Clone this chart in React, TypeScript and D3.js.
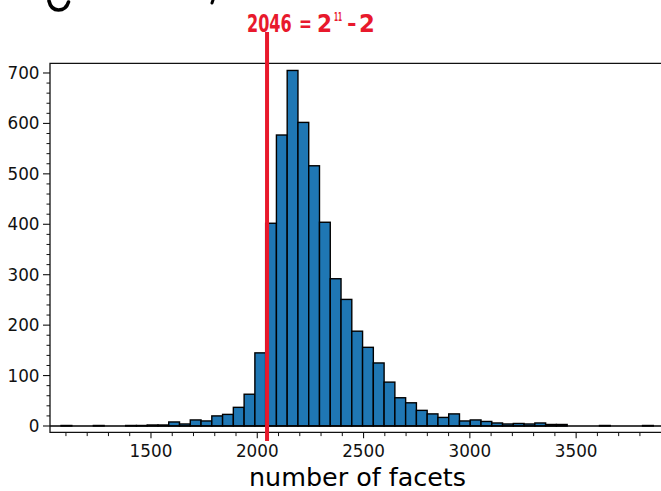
import React from "react";
import * as d3 from "d3";

// Histogram of facet counts: bin counts between the smallest and largest sample
const binCounts = [
  1, 0, 0, 1, 0, 0, 1, 1, 2, 2,
  8, 4, 12, 10, 20, 23, 37, 63, 145, 402,
  577, 705, 602, 516, 404, 292, 251, 188, 156, 125,
  87, 56, 46, 31, 24, 17, 24, 10, 12, 9,
  6, 4, 5, 4, 6, 3, 3, 0, 0, 0,
  1, 0, 0, 0, 1,
];
const binRange = [1077, 3863];
const xMajorTicks = [1500, 2000, 2500, 3000, 3500];
const yMajorTicks = [0, 100, 200, 300, 400, 500, 600, 700];
const markerValue = 2046;
const xLabel = "number of facets";

const W = 661;
const H = 491;
const left = 50;
const right = 665;
const top = 63.3;
const bottom = 432.3;

// pieces of the handwritten note "2046 = 2^11 - 2" (sx squeezes glyphs horizontally)
const notePieces = [
  { t: "2046", x: 247, y: 32, size: 24, sx: 0.67 },
  { t: "=", x: 299, y: 31, size: 22, sx: 0.7 },
  { t: "2", x: 317, y: 32, size: 24, sx: 0.9 },
  { t: "11", x: 334, y: 21, size: 13, sx: 0.45 },
  { t: "-", x: 347, y: 31, size: 22, sx: 1.05 },
  { t: "2", x: 359, y: 32, size: 24, sx: 0.95 },
];

export default function App() {
  const x = d3.scaleLinear().domain([1025, 3918]).range([left, right]);
  const y = d3.scaleLinear().domain([-12.5, 719.2]).range([bottom, top]);

  const nBins = binCounts.length;
  const step = (binRange[1] - binRange[0]) / nBins;
  const bins = binCounts.map((c, i) => ({
    x0: binRange[0] + i * step,
    x1: binRange[0] + (i + 1) * step,
    count: c,
  }));

  const xMinor = d3.range(1100, 3900, 100).filter((v) => v % 500 !== 0);
  const yMinor = d3.range(0, 720, 20).filter((v) => v % 100 !== 0);

  const font = "'DejaVu Sans', sans-serif";
  const red = "#e8192c";
  const mx = x(markerValue);

  return (
    <svg
      width={W}
      height={H}
      style={{ position: "absolute", left: 0, top: 0, background: "#fff" }}
      fontFamily={font}
    >
      <rect width={W} height={H} fill="#fff" />

      {/* handwritten fragments at the top edge */}
      <path
        d="M49 1 Q51 10 58.5 10 Q66 10 68.5 2"
        fill="none"
        stroke="#000"
        strokeWidth={3.6}
        strokeLinecap="round"
      />
      <path d="M213 0 L212 3" stroke="#000" strokeWidth={3} strokeLinecap="round" />

      {/* bars */}
      {bins
        .filter((b) => b.count > 0)
        .map((b, i) => (
          <rect
            key={i}
            x={x(b.x0)}
            y={y(b.count)}
            width={x(b.x1) - x(b.x0)}
            height={y(0) - y(b.count)}
            fill="#1f77b4"
            stroke="#000"
            strokeWidth={1.4}
          />
        ))}

      {/* axis line at zero */}
      <line x1={left} x2={right} y1={y(0)} y2={y(0)} stroke="#000" strokeWidth={1.5} />

      {/* frame */}
      <path
        d={`M${right} ${top} H${left} V${bottom} H${right}`}
        fill="none"
        stroke="#111"
        strokeWidth={1.3}
      />

      {/* x ticks */}
      {xMajorTicks.map((t) => (
        <g key={"xm" + t}>
          <line x1={x(t)} x2={x(t)} y1={bottom} y2={bottom + 6} stroke="#111" strokeWidth={1.1} />
          <text x={x(t)} y={457.3} fontSize={16.8} textAnchor="middle" fill="#111">
            {t}
          </text>
        </g>
      ))}
      {xMinor.map((t) => (
        <line key={"xn" + t} x1={x(t)} x2={x(t)} y1={bottom} y2={bottom + 3.8} stroke="#111" strokeWidth={1} />
      ))}

      {/* y ticks */}
      {yMajorTicks.map((t) => (
        <g key={"ym" + t}>
          <line x1={left - 7} x2={left} y1={y(t)} y2={y(t)} stroke="#111" strokeWidth={1.1} />
          <text x={39.5} y={y(t) + 6} fontSize={16.8} textAnchor="end" fill="#111">
            {t}
          </text>
        </g>
      ))}
      {yMinor.map((t) => (
        <line key={"yn" + t} x1={left - 3.5} x2={left} y1={y(t)} y2={y(t)} stroke="#111" strokeWidth={1} />
      ))}

      {/* x axis label */}
      <text x={(left + right) / 2} y={485.5} fontSize={25.4} textAnchor="middle" fill="#000">
        {xLabel}
      </text>

      {/* marker line and its note */}
      <line x1={mx} x2={mx} y1={32} y2={441} stroke={red} strokeWidth={4} />
      {notePieces.map((p, i) => (
        <text
          key={i}
          transform={`translate(${p.x},${p.y}) scale(${p.sx},1)`}
          fontSize={p.size}
          fontWeight="bold"
          fill={red}
        >
          {p.t}
        </text>
      ))}
    </svg>
  );
}
